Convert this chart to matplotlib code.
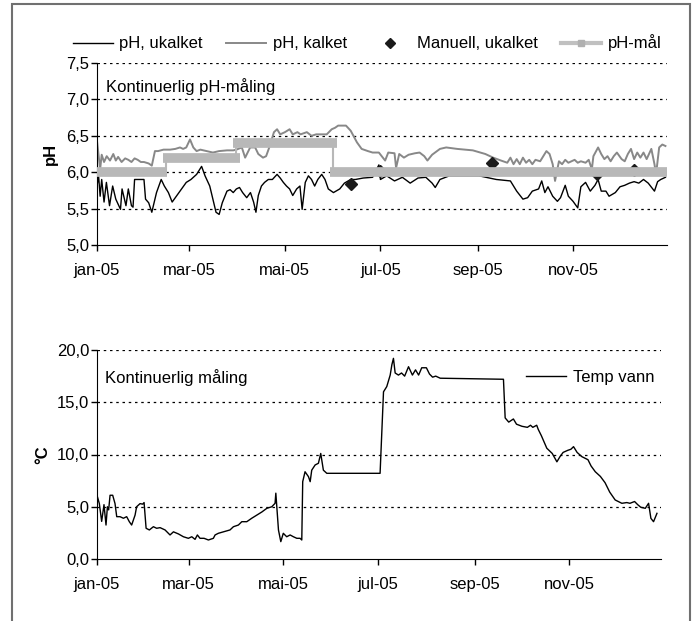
# ph_temp_2005.py
# Plots continuous pH (limed / unlimed) and water temperature for 2005
# as two stacked line charts, styled like the original Excel figure.

import matplotlib.pyplot as plt
import pandas as pd
from matplotlib.lines import Line2D
from matplotlib.patches import Rectangle

plt.rcParams['font.family'] = ['Liberation Sans', 'DejaVu Sans']
plt.rcParams['font.size'] = 12

# pH, ukalket (day of year, pH)
ukalket_day = [0, 1, 2, 3, 4.5, 6, 8, 10, 12, 15, 16, 18.5, 20, 22, 23, 24, 30, 31, 33, 35,
               38, 41, 43, 45.6, 48, 51, 54, 57, 60, 63.6, 66.8, 69, 72, 74, 76, 78, 80, 83,
               85, 87, 89, 91, 93, 95.6, 98, 100, 101.5, 103, 105, 107, 109.4, 112, 115, 117,
               119, 121, 123, 125, 127.5, 129.6, 131, 133, 135, 137, 139, 141, 143.5, 145.6,
               147.7, 151, 155, 158, 162, 165, 170, 176, 180, 181, 185, 190, 195, 200, 205,
               210, 214, 216, 219, 225, 235, 244, 255, 264, 268, 272, 275, 278, 282, 284, 286,
               288, 291, 294, 296, 299, 301, 304, 307, 309, 312, 315, 318, 320, 322, 325, 327,
               331, 334, 337, 340, 343, 346, 349, 352, 356, 358, 360, 363]
ukalket_ph = [5.81, 5.95, 5.67, 5.90, 5.59, 5.86, 5.54, 5.81, 5.63, 5.49, 5.77, 5.54, 5.77, 5.54,
              5.52, 5.90, 5.90, 5.63, 5.58, 5.45, 5.72, 5.90, 5.81, 5.72, 5.59, 5.68, 5.77, 5.86,
              5.90, 5.97, 6.08, 5.95, 5.81, 5.63, 5.45, 5.42, 5.58, 5.74, 5.76, 5.72, 5.77, 5.79,
              5.72, 5.65, 5.72, 5.59, 5.45, 5.68, 5.81, 5.86, 5.90, 5.90, 5.97, 5.92, 5.86, 5.81,
              5.77, 5.68, 5.77, 5.81, 5.49, 5.86, 5.95, 5.90, 5.81, 5.90, 5.97, 5.90, 5.77, 5.72,
              5.77, 5.85, 5.90, 5.90, 5.92, 5.93, 6.10, 5.90, 5.95, 5.88, 5.93, 5.85, 5.92, 5.93,
              5.85, 5.79, 5.90, 5.95, 5.95, 5.95, 5.90, 5.88, 5.74, 5.63, 5.65, 5.74, 5.77, 5.88,
              5.72, 5.80, 5.67, 5.60, 5.65, 5.82, 5.67, 5.60, 5.51, 5.80, 5.86, 5.74, 5.82, 5.90,
              5.74, 5.74, 5.67, 5.72, 5.80, 5.82, 5.85, 5.87, 5.85, 5.90, 5.85, 5.74, 5.87, 5.90,
              5.93]

# pH, kalket
kalket_day = [0, 1.3, 2, 3, 4.5, 6.2, 8.3, 10.4, 12, 13.5, 15.7, 18, 20, 22, 24, 26, 28, 30, 33,
              35, 37, 39, 42.5, 46.7, 50, 53, 55, 57, 59.4, 61.5, 63.6, 66, 70, 74, 78, 83, 87,
              89, 92.5, 94.6, 97.8, 101, 103, 106, 108, 110, 113, 115, 117, 120, 123, 125, 128,
              130, 134, 137, 140, 143.5, 146.7, 149.9, 152, 154, 159, 162, 166, 169, 173, 176,
              180, 184, 186, 190, 191, 193, 196, 199, 203, 206, 209, 211, 214, 219, 223, 230,
              240, 248, 253, 258, 262, 264, 266, 268, 270, 272, 274, 276, 278, 280, 283, 287,
              289, 291, 292.5, 295, 297, 299, 301, 303, 305, 307, 309, 312, 314, 316, 317, 320,
              322, 324, 326, 328, 330, 332, 335, 337, 339, 341, 343, 345, 347, 349, 351, 354,
              356, 357, 359, 361, 363]
kalket_ph = [6.43, 6.18, 6.04, 6.24, 6.14, 6.22, 6.16, 6.25, 6.16, 6.21, 6.14, 6.19, 6.17, 6.14,
             6.19, 6.17, 6.14, 6.14, 6.12, 6.09, 6.29, 6.29, 6.31, 6.31, 6.32, 6.34, 6.32, 6.34,
             6.45, 6.34, 6.29, 6.31, 6.29, 6.27, 6.29, 6.30, 6.30, 6.31, 6.34, 6.20, 6.34, 6.34,
             6.25, 6.20, 6.22, 6.34, 6.55, 6.59, 6.52, 6.55, 6.59, 6.52, 6.55, 6.52, 6.55, 6.50,
             6.52, 6.52, 6.52, 6.59, 6.61, 6.64, 6.64, 6.57, 6.41, 6.32, 6.29, 6.27, 6.27, 6.16,
             6.27, 6.26, 6.06, 6.25, 6.20, 6.24, 6.26, 6.27, 6.22, 6.16, 6.24, 6.32, 6.34, 6.32,
             6.30, 6.25, 6.20, 6.16, 6.13, 6.20, 6.11, 6.18, 6.11, 6.20, 6.13, 6.17, 6.11, 6.17,
             6.15, 6.29, 6.25, 6.11, 5.88, 6.15, 6.11, 6.17, 6.13, 6.15, 6.17, 6.13, 6.15, 6.13,
             6.17, 6.04, 6.22, 6.34, 6.25, 6.18, 6.22, 6.15, 6.22, 6.27, 6.18, 6.15, 6.25, 6.32,
             6.18, 6.27, 6.20, 6.27, 6.18, 6.32, 6.11, 5.97, 6.34, 6.38, 6.36]

# manual samples, ukalket
manuell_day = [162, 181, 252, 319, 343]
manuell_ph = [5.84, 6.02, 6.12, 5.98, 6.03]

# pH target (start day, end day, value)
maal_start = [0, 42, 87, 149]
maal_end = [45, 91, 153, 364]
maal_ph = [6.0, 6.2, 6.4, 6.0]

# water temperature
temp_day = [0, 1.5, 3, 4.5, 5.8, 6.7, 7.5, 8.4, 10.1, 11.6, 12.7, 14.8, 17, 19.1, 20.8, 22.3,
            24.5, 25.5, 27.7, 29.4, 30.3, 31.6, 33.7, 36.3, 38.4, 40.6, 43.8, 47, 49.2, 52.4,
            55.6, 58.8, 61, 63.1, 64.6, 66.3, 68.9, 71.7, 74.9, 76, 78.1, 81.3, 85.6, 87.8, 91,
            93.2, 96.4, 99.6, 102.8, 106.1, 109.3, 112.5, 114.6, 115.1, 116.8, 118.3, 119.9,
            122.1, 124.3, 126.4, 128.6, 130.7, 131.8, 132.4, 133.9, 136.1, 137.2, 138.2, 140.4,
            142.5, 144, 145.7, 147.9, 182.2, 184.4, 186.5, 188.7, 189.8, 190.8, 191.9, 194,
            196, 198, 200.5, 203, 205, 207, 209, 212, 214, 216, 218, 220.9, 261.6, 262.7, 265,
            268, 270, 273.5, 277, 279, 280.5, 283, 284, 286, 288, 289.5, 293, 296, 298, 300,
            303, 305, 306.7, 309, 312, 316, 318, 320.7, 324, 327, 330, 333.5, 337.8, 341, 343,
            346, 348, 350, 352.9, 355, 356.5, 358.2, 360.4]
temp_c = [6.1, 5.3, 3.6, 5.2, 3.25, 5.0, 4.7, 6.1, 6.1, 5.3, 4.05, 4.05, 3.9, 4.05, 3.57, 3.25,
          4.2, 5.0, 5.3, 5.25, 5.4, 2.94, 2.78, 3.09, 2.94, 3.0, 2.78, 2.3, 2.6, 2.4, 2.13, 1.98,
          2.13, 1.88, 2.3, 1.98, 1.98, 1.82, 1.98, 2.3, 2.46, 2.6, 2.78, 3.09, 3.25, 3.57, 3.57,
          3.9, 4.2, 4.5, 4.85, 5.0, 5.33, 6.3, 2.77, 1.66, 2.46, 2.13, 2.3, 2.13, 1.98, 1.98,
          1.82, 7.4, 8.35, 7.88, 7.4, 8.5, 9.0, 9.16, 10.1, 8.5, 8.2, 8.2, 16.0, 16.5, 17.6, 18.6,
          19.2, 17.8, 17.6, 17.8, 17.5, 18.4, 17.6, 18.1, 17.6, 18.3, 18.3, 17.7, 17.4, 17.5,
          17.3, 17.2, 13.5, 13.1, 13.4, 12.9, 12.7, 12.6, 12.8, 12.6, 12.8, 12.4, 11.8, 11.1,
          10.6, 10.1, 9.3, 9.8, 10.2, 10.4, 10.5, 10.75, 10.2, 9.8, 9.5, 8.9, 8.35, 7.9, 7.3, 6.4,
          5.65, 5.33, 5.4, 5.33, 5.5, 5.2, 4.95, 4.85, 5.33, 3.89, 3.57, 4.37]

# month ticks
tick_months = ['2005-01-01', '2005-03-01', '2005-05-01', '2005-07-01', '2005-09-01', '2005-11-01']
tick_labels = ['jan-05', 'mar-05', 'mai-05', 'jul-05', 'sep-05', 'nov-05']

start = pd.Timestamp('2005-01-01')


def to_dates(days):
    return start + pd.to_timedelta(days, unit='D')


fig = plt.figure(figsize=(6.95, 6.21), dpi=100)

# grey frame round the whole figure (bottom edge is cut off in the original)
fig.patches.append(Rectangle((12 / 695, -0.05), 678 / 695, 1.05 - 4 / 621,
                             transform=fig.transFigure, fill=False,
                             edgecolor='#707070', linewidth=1.5, clip_on=False))


def style_axis(ax, ymin, ymax, ystep, fmt, right_day):
    ax.set_xlim(start, to_dates(right_day))
    ax.set_ylim(ymin, ymax)
    ax.set_xticks(pd.to_datetime(tick_months))
    ax.set_xticklabels(tick_labels)
    yt = [ymin + i * ystep for i in range(int(round((ymax - ymin) / ystep)) + 1)]
    ax.set_yticks(yt)
    ax.set_yticklabels([fmt.format(v).replace('.', ',') for v in yt])
    for v in yt[1:]:
        ax.axhline(v, color='black', linestyle=(0, (2, 3)), linewidth=0.9, zorder=0)
    ax.spines['top'].set_visible(False)
    ax.spines['right'].set_visible(False)
    ax.tick_params(direction='out', length=4, width=1)
    ax.tick_params(axis='x', pad=9)
    ax.tick_params(axis='y', pad=1.5)


# --- pH chart ---
ax1 = fig.add_axes([97 / 695, 1 - 245 / 621, 570 / 695, 182 / 621])
ax1.plot(to_dates(ukalket_day), ukalket_ph, color='black', linewidth=1.0)
ax1.plot(to_dates(kalket_day), kalket_ph, color='#888888', linewidth=1.4)
ax1.plot(to_dates(manuell_day), manuell_ph, linestyle='none', marker='D', markersize=6,
         color='#1a1a1a')

# target: thick horizontal bars joined by thin vertical steps
for i in range(len(maal_ph)):
    ax1.plot(to_dates([maal_start[i], maal_end[i]]), [maal_ph[i], maal_ph[i]],
             color='#b8b8b8', linewidth=7, solid_capstyle='butt', zorder=5)
    if i > 0:
        ax1.plot(to_dates([maal_start[i] + 2, maal_start[i] + 2]), [maal_ph[i - 1], maal_ph[i]],
                 color='#b8b8b8', linewidth=1.5, zorder=4)

style_axis(ax1, 5.0, 7.5, 0.5, '{:.1f}', 364)
ax1.set_ylabel('pH', fontweight='bold', labelpad=6)
ax1.text(0.015, 0.87, 'Kontinuerlig pH-måling', transform=ax1.transAxes, va='center')

handles = [Line2D([], [], color='black', linewidth=1.0),
           Line2D([], [], color='#888888', linewidth=1.4),
           Line2D([], [], linestyle='none', marker='D', markersize=5, color='#1a1a1a'),
           Line2D([], [], color='#c0c0c0', linewidth=3, marker='s', markersize=4,
                  markerfacecolor='#b0b0b0', markeredgecolor='#b0b0b0')]
fig.legend(handles, ['pH, ukalket', 'pH, kalket', 'Manuell, ukalket', 'pH-mål'],
           loc='center', bbox_to_anchor=(367 / 695, 1 - 43 / 621), ncol=4, frameon=False,
           handlelength=2.4, handletextpad=0.4, columnspacing=1.4, borderaxespad=0)

# --- temperature chart ---
ax2 = fig.add_axes([97 / 695, 1 - 559 / 621, 564 / 695, 209 / 621])
ax2.plot(to_dates(temp_day), temp_c, color='black', linewidth=1.0, label='Temp vann')
style_axis(ax2, 0.0, 20.0, 5.0, '{:.1f}', 363)
ax2.set_ylabel('°C', fontweight='bold', labelpad=5)
ax2.text(0.015, 0.87, 'Kontinuerlig måling', transform=ax2.transAxes, va='center')
ax2.legend(loc='center right', bbox_to_anchor=(1.0, 0.87), frameon=False,
           handlelength=2.4, handletextpad=0.4, borderaxespad=0)

fig.savefig('out.png', dpi=100)
